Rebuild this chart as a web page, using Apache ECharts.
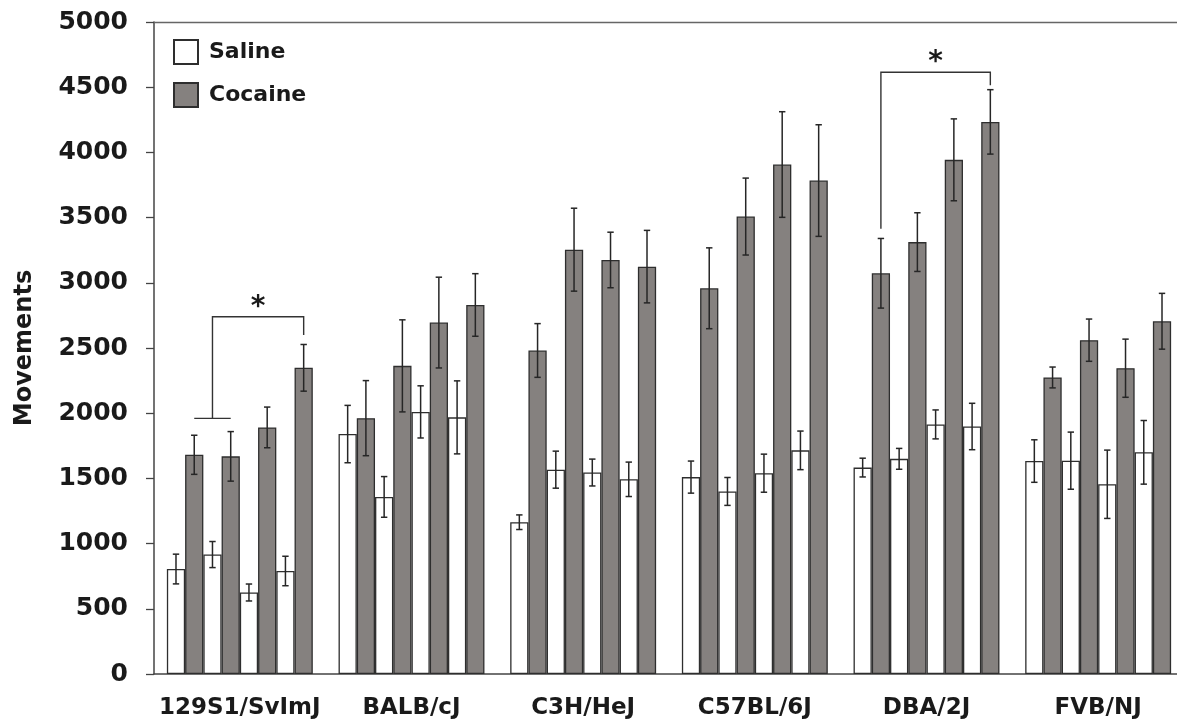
<!DOCTYPE html>
<html>
<head>
<meta charset="utf-8">
<script src="https://cdn.jsdelivr.net/npm/echarts@6/dist/echarts.min.js"></script>
<style>
html,body{margin:0;padding:0;background:#fff;overflow:hidden;width:1177px;height:720px;}
#chart{width:1184px;height:720px;}
</style>
</head>
<body>
<div id="chart"></div>
<script>
// Categories
const strains = ['129S1/SvImJ', 'BALB/cJ', 'C3H/HeJ', 'C57BL/6J', 'DBA/2J', 'FVB/NJ'];
// Four sessions per strain (saline / cocaine pairs)
const salineMean = [
  [805, 916, 625, 790],
  [1840, 1358, 2010, 1968],
  [1164, 1567, 1545, 1493],
  [1510, 1400, 1540, 1715],
  [1583, 1650, 1914, 1898],
  [1633, 1636, 1455, 1700]
];
const salineErr = [
  [114, 100, 65, 113],
  [220, 156, 200, 280],
  [56, 142, 103, 132],
  [123, 107, 146, 148],
  [72, 80, 111, 178],
  [163, 219, 262, 244]
];
const cocaineMean = [
  [1681, 1669, 1891, 2348],
  [1962, 2363, 2695, 2830],
  [2481, 3254, 3175, 3124],
  [2958, 3508, 3907, 3784],
  [3073, 3312, 3943, 4234],
  [2274, 2560, 2345, 2705]
];
const cocaineErr = [
  [150, 190, 156, 179],
  [288, 353, 348, 240],
  [206, 318, 213, 278],
  [310, 295, 405, 428],
  [267, 225, 314, 247],
  [80, 162, 223, 214]
];
// y-axis ticks
const yTicks = [0, 500, 1000, 1500, 2000, 2500, 3000, 3500, 4000, 4500, 5000];
// Significance brackets: strain index, bracket level, left foot bars/level, right foot bar/level
const sigStrain = [0, 4];
const sigTop = [2740, 4615];
const sigLeftFrom = [1, 1];
const sigLeftTo = [3, 1];
const sigLeftFoot = [1960, 3415];
const sigRightBar = [7, 7];
const sigRightFoot = [2600, 4515];
const sigLabel = ['*', '*'];

const FONT = 'DejaVu Sans';
const CAT_GAP = 0.15;
const NBARS = 8;
const salineColor = '#ffffff';
const cocaineColor = '#85817f';
const edge = '#2e2e2e';

const series = [];
for (let d = 0; d < 4; d++) {
  series.push({
    name: 'Saline', type: 'bar', barGap: '0%', barCategoryGap: (CAT_GAP * 100) + '%',
    data: salineMean.map(r => r[d]),
    itemStyle: { color: salineColor, borderColor: edge, borderWidth: 1.3 },
    emphasis: { disabled: true }, z: 2
  });
  series.push({
    name: 'Cocaine', type: 'bar', barGap: '0%', barCategoryGap: (CAT_GAP * 100) + '%',
    data: cocaineMean.map(r => r[d]),
    itemStyle: { color: cocaineColor, borderColor: edge, borderWidth: 1.3 },
    emphasis: { disabled: true }, z: 2
  });
}

// Error bar data: [strain, barIndex, mean, err]
const errData = [];
strains.forEach((s, i) => {
  for (let d = 0; d < 4; d++) {
    errData.push([i, 2 * d, salineMean[i][d], salineErr[i][d]]);
    errData.push([i, 2 * d + 1, cocaineMean[i][d], cocaineErr[i][d]]);
  }
});

function barX(api, cat, bar) {
  const c = api.coord([cat, 0]);
  const w = api.size([1, 0])[0];
  const bw = w * (1 - CAT_GAP) / NBARS;
  return c[0] + (bar - (NBARS - 1) / 2) * bw;
}

series.push({
  type: 'custom', name: 'err', z: 5, silent: true,
  data: errData,
  encode: { x: 0, y: 2 },
  renderItem: function (params, api) {
    const cat = api.value(0), bar = api.value(1), m = api.value(2), e = api.value(3);
    const x = barX(api, cat, bar);
    const yt = api.coord([cat, m + e])[1];
    const yb = api.coord([cat, m - e])[1];
    const cap = 3.2;
    const st = { stroke: '#262626', lineWidth: 1.5 };
    return {
      type: 'group',
      children: [
        { type: 'line', shape: { x1: x, y1: yt, x2: x, y2: yb }, style: st },
        { type: 'line', shape: { x1: x - cap, y1: yt, x2: x + cap, y2: yt }, style: st },
        { type: 'line', shape: { x1: x - cap, y1: yb, x2: x + cap, y2: yb }, style: st }
      ]
    };
  }
});

const sigData = sigStrain.map((s, k) => [s, sigTop[k], sigLeftFrom[k], sigLeftTo[k], sigLeftFoot[k], sigRightBar[k], sigRightFoot[k], k]);
series.push({
  type: 'custom', name: 'sig', z: 6, silent: true,
  data: sigData,
  encode: { x: 0, y: 1 },
  renderItem: function (params, api) {
    const cat = api.value(0);
    const top = api.coord([cat, api.value(1)])[1];
    const xa = barX(api, cat, api.value(2));
    const xb = barX(api, cat, api.value(3));
    const xl = (xa + xb) / 2;
    const yl = api.coord([cat, api.value(4)])[1];
    const xr = barX(api, cat, api.value(5));
    const yr = api.coord([cat, api.value(6)])[1];
    const st = { stroke: '#333', lineWidth: 1.4, fill: null };
    const children = [
      { type: 'polyline', shape: { points: [[xl, yl], [xl, top], [xr, top], [xr, yr]] }, style: st }
    ];
    if (Math.abs(xb - xa) > 1) {
      children.push({ type: 'line', shape: { x1: xa, y1: yl, x2: xb, y2: yl }, style: st });
    }
    children.push({
      type: 'text',
      style: {
        x: (xl + xr) / 2, y: top + 5, text: sigLabel[api.value(7)],
        fontFamily: FONT, fontWeight: 'bold', fontSize: 28, fill: '#1a1a1a',
        align: 'center', verticalAlign: 'bottom'
      }
    });
    return { type: 'group', children: children };
  }
});

const chart = echarts.init(document.getElementById('chart'), null, { renderer: 'canvas' });
chart.setOption({
  animation: false,
  backgroundColor: '#ffffff',
  textStyle: { fontFamily: FONT },
  grid: { left: 154, right: 0, top: 22, bottom: 45 },
  legend: {
    data: ['Saline', 'Cocaine'],
    orient: 'vertical', left: 173, top: 39, padding: 0,
    itemWidth: 24, itemHeight: 24, itemGap: 17,
    icon: 'rect',
    textStyle: { fontFamily: FONT, fontWeight: 'bold', fontSize: 22, color: '#1a1a1a', padding: [0, 0, 0, 6] }
  },
  xAxis: [{
    type: 'category', data: strains,
    axisLine: { lineStyle: { color: '#444', width: 1.5 } },
    axisTick: { length: 6, lineStyle: { color: '#444', width: 1.3 } },
    axisLabel: { fontFamily: FONT, fontWeight: 'bold', fontSize: 23, color: '#1a1a1a', margin: 23, interval: 0 }
  }, {
    type: 'category', data: strains, position: 'top',
    axisLine: { lineStyle: { color: '#666', width: 1.3 } },
    axisTick: { show: false }, axisLabel: { show: false }
  }],
  yAxis: {
    type: 'value', min: yTicks[0], max: yTicks[yTicks.length - 1], interval: yTicks[1] - yTicks[0],
    name: 'Movements', nameLocation: 'middle', nameGap: 117,
    nameTextStyle: { fontFamily: FONT, fontWeight: 'bold', fontSize: 24, color: '#1a1a1a' },
    axisLine: { show: true, lineStyle: { color: '#444', width: 1.5 } },
    axisTick: { show: true, length: 8, lineStyle: { color: '#444', width: 1.3 } },
    splitLine: { show: false },
    axisLabel: { fontFamily: FONT, fontWeight: 'bold', fontSize: 25, color: '#1a1a1a', margin: 26,
      formatter: function (v) { return String(v); } }
  },
  series: series
});
</script>
</body>
</html>
